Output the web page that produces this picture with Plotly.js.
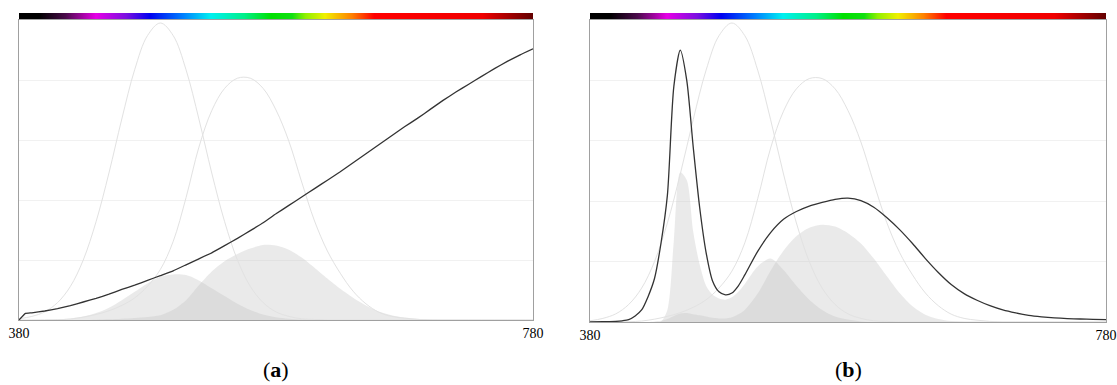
<!DOCTYPE html>
<html>
<head>
<meta charset="utf-8">
<script src="https://cdn.plot.ly/plotly-3.0.1.min.js"></script>
<style>
html,body{margin:0;padding:0;background:#fff;}
#chart{width:1117px;height:385px;}
</style>
</head>
<body>
<div id="chart"></div>
<script>
// ---------- data ----------
const waves10 = [380,390,400,410,420,430,440,450,460,470,480,490,500,510,520,530,540,550,560,570,580,590,600,610,620,630,640,650,660,670,680,690,700,710,720,730,740,750,760,770,780];

// sensitivity outlines (same in both panels)
const melOutline = [0.02,0.06,0.135,0.29,0.56,1.0,1.64,2.45,3.35,4.17,4.74,4.95,4.74,4.17,3.35,2.45,1.64,1.0,0.56,0.29,0.135,0.06,0.02,0.01,0,0,0,0,0,0,0,0,0,0,0,0,0,0,0,0,0];
const photOutline = [0,0.0005,0.002,0.005,0.016,0.047,0.093,0.154,0.243,0.368,0.563,0.842,1.31,2.04,2.88,3.49,3.86,4.03,4.03,3.86,3.5,2.98,2.3,1.65,1.15,0.78,0.48,0.27,0.13,0.06,0.03,0.01,0,0,0,0,0,0,0,0,0];

// panel (a)
const wavesA = [380,385,390,400,410,420,430,440,450,460,470,480,490,500,510,520,530,540,550,560,570,580,590,600,610,620,630,640,650,660,670,680,690,700,710,720,730,740,750,760,770,780];
const spdA = [0,0.11,0.12,0.15,0.19,0.24,0.30,0.36,0.43,0.51,0.58,0.66,0.74,0.82,0.92,1.02,1.12,1.24,1.36,1.49,1.62,1.77,1.91,2.05,2.19,2.33,2.47,2.62,2.77,2.92,3.07,3.22,3.36,3.51,3.66,3.8,3.93,4.06,4.19,4.31,4.42,4.52];
const melFillA = [0,0,0.004,0.011,0.027,0.058,0.115,0.205,0.33,0.47,0.61,0.72,0.76,0.75,0.66,0.53,0.4,0.27,0.165,0.092,0.047,0.022,0.008,0.003,0,0,0,0,0,0,0,0,0,0,0,0,0,0,0,0,0];
const photFillA = [0,0,0,0,0,0,0.005,0.012,0.022,0.035,0.05,0.08,0.17,0.33,0.58,0.81,0.98,1.1,1.19,1.25,1.24,1.17,1.04,0.87,0.69,0.52,0.37,0.24,0.14,0.08,0.04,0.02,0.01,0,0,0,0,0,0,0,0];

// panel (b)
const wavesB = [380,390,400,405,410,415,420,425,430,435,440,445,450,455,460,465,470,475,480,485,490,495,500,510,520,530,540,550,560,570,580,590,600,610,620,630,640,650,660,670,680,690,700,710,720,730,740,750,760,770,780];
const spdB = [0,0.005,0.01,0.02,0.04,0.1,0.2,0.42,0.72,1.3,2.1,3.9,4.5,4.0,2.9,1.9,1.15,0.68,0.5,0.45,0.48,0.6,0.78,1.17,1.48,1.7,1.83,1.92,1.98,2.03,2.05,2.01,1.9,1.73,1.53,1.3,1.05,0.82,0.62,0.47,0.36,0.27,0.2,0.15,0.11,0.085,0.067,0.056,0.05,0.045,0.04];
const melFillB = [0,0,0,0,0,0,0,0,0,0.01,0.2,1.35,2.48,2.35,1.5,0.95,0.6,0.45,0.39,0.37,0.41,0.5,0.63,0.92,1.05,0.86,0.6,0.37,0.2,0.09,0.04,0.01,0,0,0,0,0,0,0,0,0,0,0,0,0,0,0,0,0,0,0];
const photFillB = [0,0,0,0,0,0,0,0,0.01,0.02,0.05,0.1,0.14,0.15,0.13,0.11,0.09,0.07,0.06,0.06,0.08,0.13,0.2,0.47,0.85,1.18,1.42,1.56,1.61,1.58,1.47,1.3,1.05,0.76,0.48,0.26,0.12,0.05,0.015,0,0,0,0,0,0,0,0,0,0,0,0];

// spectrum colour bar
const barStops = [0,0.038,0.09,0.149,0.207,0.253,0.319,0.372,0.438,0.49,0.53,0.556,0.595,0.647,0.69,0.9,1];
const barColors = ['#000000','#000000','#4a0a4a','#e600e6','#7a10e0','#0000f0','#0080ff','#00f0f0','#00f08a','#00e000','#10e010','#90f000','#f0f000','#ff8000','#ff0000','#f00000','#600000'];
const tickVals = [380,780];
const panelLabels = ['(<b>a</b>)','(<b>b</b>)'];

// ---------- build ----------
const W = 1117, H = 385;
const colorscale = barStops.map((s,i)=>[s,barColors[i]]);
const fillCol = 'rgba(195,195,195,0.35)';
const outlineCol = '#e2e2e2';
const lineCol = '#333333';

function fillTrace(x,y,xa,ya){
  return {x:x,y:y,xaxis:xa,yaxis:ya,type:'scatter',mode:'lines',fill:'tozeroy',
          fillcolor:fillCol,line:{width:0,shape:'spline',smoothing:0.8},hoverinfo:'skip',showlegend:false};
}
function outlineTrace(x,y,xa,ya){
  return {x:x,y:y,xaxis:xa,yaxis:ya,type:'scatter',mode:'lines',
          line:{color:outlineCol,width:1,shape:'spline'},hoverinfo:'skip',showlegend:false};
}
function mainLine(x,y,xa,ya,sm){
  return {x:x,y:y,xaxis:xa,yaxis:ya,type:'scatter',mode:'lines',
          line:{color:lineCol,width:1.3,shape:'spline',smoothing:sm},hoverinfo:'skip',showlegend:false};
}
function bar(xa,ya){
  return {type:'heatmap',x:waves10,y:[0],z:[waves10],xaxis:xa,yaxis:ya,zmin:380,zmax:780,
          colorscale:colorscale,showscale:false,zsmooth:'best',hoverinfo:'skip'};
}

const traces = [
  bar('x','y2'),
  fillTrace(waves10,melFillA,'x','y'),
  fillTrace(waves10,photFillA,'x','y'),
  outlineTrace(waves10,melOutline,'x','y'),
  outlineTrace(waves10,photOutline,'x','y'),
  mainLine(wavesA,spdA,'x','y',0.3),
  bar('x2','y4'),
  fillTrace(wavesB,melFillB,'x2','y3'),
  fillTrace(wavesB,photFillB,'x2','y3'),
  outlineTrace(waves10,melOutline,'x2','y3'),
  outlineTrace(waves10,photOutline,'x2','y3'),
  mainLine(wavesB,spdB,'x2','y3',0.75)
];

const px = v => v/W, py = v => (H-v)/H;
const tickFont = {family:'Liberation Serif, Times New Roman, serif',size:14,color:'#000'};
function xax(d0,d1,anchor){
  return {domain:[px(d0),px(d1)],anchor:anchor,range:[380,780],showgrid:false,zeroline:false,
          showline:true,linecolor:'#a0a0a0',linewidth:1,mirror:true,ticks:'',
          tickmode:'array',tickvals:tickVals,ticktext:tickVals.map(String),tickfont:tickFont,fixedrange:true};
}
function yax(top,bottom,anchor){
  return {domain:[py(bottom),py(top)],anchor:anchor,range:[0,5],showgrid:true,gridcolor:'#f1f1f1',gridwidth:1,
          dtick:1,zeroline:false,showline:true,linecolor:'#a0a0a0',linewidth:1,mirror:true,
          showticklabels:false,ticks:'',fixedrange:true};
}
function barAx(anchor){
  return {domain:[py(19),py(13)],anchor:anchor,visible:false,range:[-0.5,0.5],fixedrange:true};
}

const layout = {
  width:W,height:H,margin:{l:0,r:0,t:0,b:0},
  paper_bgcolor:'#ffffff',plot_bgcolor:'#ffffff',showlegend:false,
  xaxis:xax(19,533,'y'),
  yaxis:yax(20,320,'x'),
  yaxis2:barAx('x'),
  xaxis2:xax(590,1106,'y3'),
  yaxis3:yax(20,322,'x2'),
  yaxis4:barAx('x2'),
  annotations:[
    {text:panelLabels[0],xref:'paper',yref:'paper',x:px(276),y:py(369),showarrow:false,
     xanchor:'center',yanchor:'middle',font:{family:'Liberation Serif, serif',size:22,color:'#000'}},
    {text:panelLabels[1],xref:'paper',yref:'paper',x:px(848),y:py(369),showarrow:false,
     xanchor:'center',yanchor:'middle',font:{family:'Liberation Serif, serif',size:22,color:'#000'}}
  ]
};

Plotly.newPlot('chart',traces,layout,{staticPlot:true,displayModeBar:false});
</script>
</body>
</html>
